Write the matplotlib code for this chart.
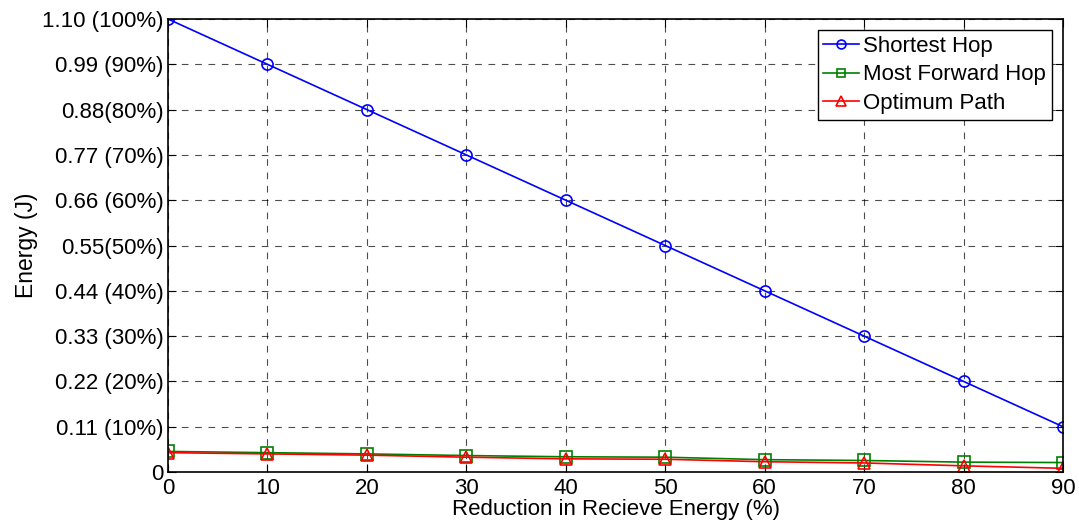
import matplotlib.pyplot as plt

plt.rcParams['font.family'] = ['Liberation Sans', 'DejaVu Sans']

reduction = [0, 10, 20, 30, 40, 50, 60, 70, 80, 90]
shortest_hop = [1.10, 0.99, 0.88, 0.77, 0.66, 0.55, 0.44, 0.33, 0.22, 0.11]
most_forward_hop = [0.050, 0.047, 0.044, 0.040, 0.037, 0.036, 0.030, 0.028, 0.024, 0.023]
optimum_path = [0.047, 0.044, 0.041, 0.036, 0.032, 0.031, 0.025, 0.022, 0.015, 0.009]

y_ticks = [0, 0.11, 0.22, 0.33, 0.44, 0.55, 0.66, 0.77, 0.88, 0.99, 1.10]
y_tick_labels = ['0', '0.11 (10%)', '0.22 (20%)', '0.33 (30%)', '0.44 (40%)',
                 '0.55(50%)', '0.66 (60%)', '0.77 (70%)', '0.88(80%)',
                 '0.99 (90%)', '1.10 (100%)']
x_ticks = [0, 10, 20, 30, 40, 50, 60, 70, 80, 90]

fig = plt.figure(figsize=(10.79, 5.24), dpi=100)
ax = fig.add_axes([0.1557, 0.0992, 0.8295, 0.8645])

ax.plot(reduction, shortest_hop, color='blue', marker='o', markersize=8,
        markerfacecolor='none', markeredgewidth=1.2, linewidth=1.2, label='Shortest Hop')
ax.plot(reduction, most_forward_hop, color=(0, 0.5, 0), marker='s', markersize=8,
        markerfacecolor='none', markeredgewidth=1.2, linewidth=1.2, label='Most Forward Hop')
ax.plot(reduction, optimum_path, color='red', marker='^', markersize=9,
        markerfacecolor='none', markeredgewidth=1.2, linewidth=1.2, label='Optimum Path')

ax.set_xlim(0, 90)
ax.set_ylim(0, 1.1)
ax.set_xticks(x_ticks)
ax.set_yticks(y_ticks)
ax.set_yticklabels(y_tick_labels)
ax.tick_params(direction='in', top=True, right=True, labelsize=16, length=6)
ax.tick_params(axis='x', pad=4)
ax.tick_params(axis='y', pad=3)
ax.grid(True, color='black', linestyle=(0, (6, 6)), linewidth=0.8, alpha=0.7)
for s in ax.spines.values():
    s.set_linewidth(1.2)

ax.set_xlabel('Reduction in Recieve Energy (%)', fontsize=16, labelpad=0)
ax.set_ylabel('Energy (J)', fontsize=16.5, labelpad=3)

leg = ax.legend(loc='upper right', fontsize=16, fancybox=False, framealpha=1,
                edgecolor='black', handlelength=1.6, handletextpad=0.2,
                borderpad=0.25, labelspacing=0.35, borderaxespad=0.5,
                markerscale=0.8)
leg.get_frame().set_linewidth(1.0)

fig.savefig('out.png', dpi=100)
